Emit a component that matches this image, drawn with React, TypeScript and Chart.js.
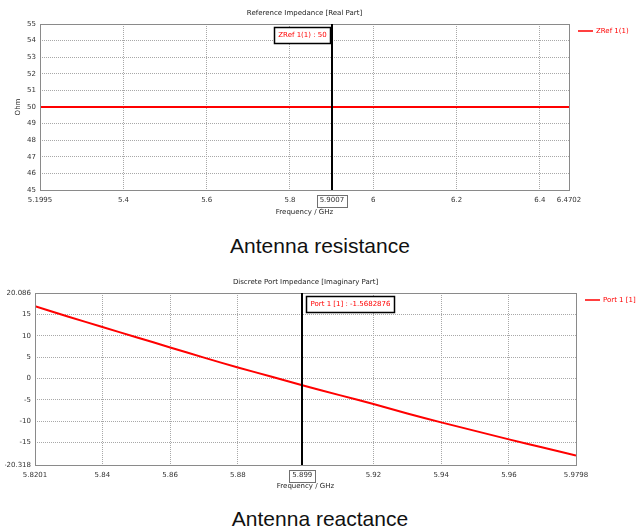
import React, { useEffect, useRef } from "react";
import { Chart, registerables } from "chart.js";

Chart.register(...registerables);

const FONT = "'DejaVu Sans', sans-serif";

// ---- Chart 1: Reference impedance (real part) ----
const resFreq = [5.1995, 5.4, 5.6, 5.8, 5.9007, 6, 6.2, 6.4, 6.4702];
const resOhm = [50, 50, 50, 50, 50, 50, 50, 50, 50];
const resXTicks = [5.1995, 5.4, 5.6, 5.8, 5.9007, 6, 6.2, 6.4, 6.4702];
const resYTicks = [45, 46, 47, 48, 49, 50, 51, 52, 53, 54, 55];
const resMarkerFreq = 5.9007;
const resMarkerText = "ZRef 1(1) : 50";
const resLegend = "ZRef 1(1)";
const resTitle = "Reference Impedance [Real Part]";

// ---- Chart 2: Discrete port impedance (imaginary part) ----
const reactFreq = [5.8201, 5.83, 5.84, 5.85, 5.86, 5.87, 5.88, 5.89, 5.899, 5.91, 5.92, 5.93, 5.94, 5.95, 5.96, 5.97, 5.9798];
const reactOhm = [17.0, 14.5, 12.1, 9.7, 7.3, 4.9, 2.6, 0.4, -1.5682876, -3.9, -6.0, -8.2, -10.3, -12.3, -14.3, -16.2, -18.1];
const reactXTicks = [5.8201, 5.84, 5.86, 5.88, 5.899, 5.92, 5.94, 5.96, 5.9798];
const reactYTicks = [-20.318, -15, -10, -5, 0, 5, 10, 15, 20.086];
const reactMarkerFreq = 5.899;
const reactMarkerText = "Port 1 [1] : -1.5682876";
const reactLegend = "Port 1 [1]";
const reactTitle = "Discrete Port Impedance [Imaginary Part]";

type Cfg = {
  freq: number[];
  vals: number[];
  xTicks: number[];
  yTicks: number[];
  marker: number;
  markerText: string;
  markerSide: "left" | "right";
  legend: string;
  title: string;
  yTitle?: string;
  pad: { left: number; right: number; top: number; bottom: number };
  yWidth: number;
  xHeight: number;
  xTitleY: number;
};

function build(canvas: HTMLCanvasElement, c: Cfg) {
  const xMin = c.xTicks[0];
  const xMax = c.xTicks[c.xTicks.length - 1];
  const yMin = Math.min(...c.yTicks);
  const yMax = Math.max(...c.yTicks);
  const gridColor = (ctx: any) => {
    const v = ctx.tick ? ctx.tick.value : null;
    if (v === null) return "#a8a8a8";
    if (Math.abs(v - c.marker) < 1e-9 && ctx.scale.axis === "x") return "rgba(0,0,0,0)";
    return "#a8a8a8";
  };
  const overlay = {
    id: "overlay",
    afterDraw(chart: any) {
      const ctx = chart.ctx as CanvasRenderingContext2D;
      const a = chart.chartArea;
      const xs = chart.scales.x;
      ctx.save();
      // plot border
      ctx.strokeStyle = "#8a8a8a";
      ctx.lineWidth = 1;
      ctx.setLineDash([]);
      ctx.strokeRect(a.left + 0.5, a.top + 0.5, a.right - a.left, a.bottom - a.top);
      // cursor line
      const mx = Math.round(xs.getPixelForValue(c.marker));
      ctx.strokeStyle = "#000";
      ctx.lineWidth = 2;
      ctx.beginPath();
      ctx.moveTo(mx, a.top);
      ctx.lineTo(mx, a.bottom);
      ctx.stroke();
      // title
      ctx.font = `7px ${FONT}`;
      ctx.fillStyle = "#222";
      ctx.textAlign = "center";
      ctx.textBaseline = "middle";
      ctx.fillText(c.title, (a.left + a.right) / 2, a.top - 11);
      // x axis title
      ctx.fillText("Frequency / GHz", (a.left + a.right) / 2, c.xTitleY);
      // y axis title
      if (c.yTitle) {
        ctx.save();
        ctx.translate(18, (a.top + a.bottom) / 2);
        ctx.rotate(-Math.PI / 2);
        ctx.fillText(c.yTitle, 0, 0);
        ctx.restore();
      }
      // boxed marker tick label
      const lbl = String(c.marker);
      const lw = ctx.measureText(lbl).width;
      ctx.strokeStyle = "#707070";
      ctx.lineWidth = 1;
      ctx.strokeRect(Math.round(mx - lw / 2 - 3) + 0.5, a.bottom + 5.5, Math.round(lw + 6), 12);
      // legend
      ctx.strokeStyle = "#ff0000";
      ctx.lineWidth = 1.5;
      ctx.beginPath();
      ctx.moveTo(a.right + 9, a.top + 7);
      ctx.lineTo(a.right + 24, a.top + 7);
      ctx.stroke();
      ctx.fillStyle = "#ff0000";
      ctx.textAlign = "left";
      ctx.fillText(c.legend, a.right + 27, a.top + 7);
      // marker box
      const tw = ctx.measureText(c.markerText).width;
      const bw = Math.round(tw + 8);
      const bh = 16;
      const bx = c.markerSide === "left" ? mx - 2 - bw : mx + 4;
      const by = a.top + 3;
      ctx.fillStyle = "#fff";
      ctx.fillRect(bx, by, bw, bh);
      ctx.strokeStyle = "#000";
      ctx.lineWidth = 1.5;
      ctx.strokeRect(bx + 0.5, by + 0.5, bw, bh);
      ctx.fillStyle = "#ff0000";
      ctx.textAlign = "center";
      ctx.fillText(c.markerText, bx + bw / 2 + 0.5, by + bh / 2 + 0.5);
      ctx.restore();
    },
  };
  return new Chart(canvas, {
    type: "line",
    data: {
      datasets: [
        {
          data: c.freq.map((f, i) => ({ x: f, y: c.vals[i] })),
          borderColor: "#ff0000",
          borderWidth: 2,
          pointRadius: 0,
          tension: 0.3,
          fill: false,
        },
      ],
    },
    options: {
      responsive: false,
      animation: false,
      layout: { padding: c.pad },
      plugins: { legend: { display: false }, title: { display: false }, tooltip: { enabled: false } },
      scales: {
        x: {
          type: "linear",
          min: xMin,
          max: xMax,
          afterBuildTicks: (s: any) => {
            s.ticks = c.xTicks.map((v) => ({ value: v }));
          },
          afterFit: (s: any) => {
            s.height = c.xHeight;
          },
          ticks: {
            autoSkip: false,
            maxRotation: 0,
            padding: 6,
            color: "#333",
            font: { family: FONT, size: 7 },
            callback: (v: any) => String(v),
          },
          grid: { color: gridColor, drawTicks: false, lineWidth: 1 },
          border: { display: false, dash: [1, 1] },
        },
        y: {
          type: "linear",
          min: yMin,
          max: yMax,
          afterBuildTicks: (s: any) => {
            s.ticks = c.yTicks.map((v) => ({ value: v }));
          },
          afterFit: (s: any) => {
            s.width = c.yWidth;
          },
          ticks: {
            autoSkip: false,
            padding: 4,
            color: "#333",
            font: { family: FONT, size: 7 },
            callback: (v: any) => String(v),
          },
          grid: { color: gridColor, drawTicks: false, lineWidth: 1 },
          border: { display: false, dash: [1, 1] },
        },
      },
    },
    plugins: [overlay],
  } as any);
}

export default function App() {
  const r1 = useRef<HTMLCanvasElement>(null);
  const r2 = useRef<HTMLCanvasElement>(null);
  useEffect(() => {
    const c1 = build(r1.current!, {
      freq: resFreq,
      vals: resOhm,
      xTicks: resXTicks,
      yTicks: resYTicks,
      marker: resMarkerFreq,
      markerText: resMarkerText,
      markerSide: "left",
      legend: resLegend,
      title: resTitle,
      yTitle: "Ohm",
      pad: { left: 10, right: 75, top: 24, bottom: 0 },
      yWidth: 30,
      xHeight: 32,
      xTitleY: 212,
    });
    const c2 = build(r2.current!, {
      freq: reactFreq,
      vals: reactOhm,
      xTicks: reactXTicks,
      yTicks: reactYTicks,
      marker: reactMarkerFreq,
      markerText: reactMarkerText,
      markerSide: "right",
      legend: reactLegend,
      title: reactTitle,
      pad: { left: 5, right: 68, top: 35, bottom: 0 },
      yWidth: 30,
      xHeight: 30,
      xTitleY: 228,
    });
    return () => {
      c1.destroy();
      c2.destroy();
    };
  }, []);
  const cap: React.CSSProperties = {
    position: "absolute",
    left: 0,
    width: 640,
    textAlign: "center",
    fontFamily: "'Liberation Sans', Arial, sans-serif",
    fontSize: 21,
    lineHeight: "21px",
    color: "#111",
  };
  return (
    <div style={{ position: "fixed", left: 0, top: 0, width: 644, height: 532, background: "#fff", overflow: "hidden" }}>
      <canvas ref={r1} width={644} height={222} style={{ position: "absolute", left: 0, top: 0 }} />
      <div style={{ ...cap, top: 235 }}>Antenna resistance</div>
      <canvas ref={r2} width={644} height={237} style={{ position: "absolute", left: 0, top: 258 }} />
      <div style={{ ...cap, top: 508 }}>Antenna reactance</div>
    </div>
  );
}
